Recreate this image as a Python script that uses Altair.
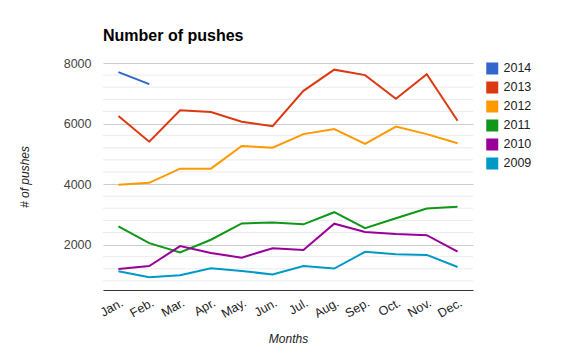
import altair as alt
import pandas as pd

months = ["Jan.", "Feb.", "Mar.", "Apr.", "May.", "Jun.", "Jul.", "Aug.", "Sep.", "Oct.", "Nov.", "Dec."]
years = ["2014", "2013", "2012", "2011", "2010", "2009"]
colors = ["#3366cc", "#dc3912", "#ff9900", "#109618", "#990099", "#0099c6"]

v2014 = [7700, 7300]
v2013 = [6250, 5400, 6440, 6380, 6060, 5910, 7080, 7780, 7600, 6820, 7630, 6090]
v2012 = [3980, 4040, 4510, 4510, 5260, 5200, 5650, 5820, 5330, 5900, 5650, 5350]
v2011 = [2600, 2050, 1740, 2160, 2700, 2730, 2670, 3070, 2540, 2870, 3190, 3250]
v2010 = [1190, 1290, 1950, 1720, 1570, 1880, 1820, 2690, 2420, 2350, 2310, 1770]
v2009 = [1120, 920, 990, 1220, 1130, 1010, 1290, 1210, 1760, 1680, 1660, 1260]

major_ticks = [2000, 4000, 6000, 8000]
minor_ticks = [800, 1200, 1600, 2400, 2800, 3200, 3600, 4400, 4800, 5200, 5600,
               6400, 6800, 7200, 7600]

series = {"2014": v2014, "2013": v2013, "2012": v2012,
          "2011": v2011, "2010": v2010, "2009": v2009}
rows = []
for y in years:
    for i, (m, v) in enumerate(zip(months, series[y])):
        rows.append({"month": m, "year": y, "value": v, "idx": i})
df = pd.DataFrame(rows)
minor_df = pd.DataFrame({"v": minor_ticks})

FONT = "Liberation Sans"

yscale = alt.Scale(domain=[500, 8000], nice=False, zero=False)
xscale = alt.Scale(type="point", domain=months, padding=0.5)

minor = alt.Chart(minor_df).mark_rule(color="#ebebeb", strokeWidth=1).encode(
    y=alt.Y("v:Q", scale=yscale)
)

lines = alt.Chart(df).mark_line(strokeWidth=2).encode(
    x=alt.X("month:N", scale=xscale, sort=months,
            axis=alt.Axis(title="Months", titleFontStyle="italic", titleFontWeight="normal",
                          titleFontSize=12, titleFont=FONT, titleColor="#222",
                          labelAngle=-30, labelAlign="right", labelBaseline="top",
                          labelFont=FONT, labelFontSize=12.5, labelColor="#222",
                          labelPadding=6, ticks=False, grid=False,
                          domainColor="#333", domainWidth=1, titlePadding=14)),
    y=alt.Y("value:Q", scale=yscale,
            axis=alt.Axis(values=major_ticks, format="d", title="# of pushes",
                          titleFontStyle="italic",
                          titleFontWeight="normal", titleFontSize=12, titleFont=FONT,
                          titleColor="#222", titleX=-72, titleY=113.5,
                          labelFont=FONT, labelFontSize=12.5, labelColor="#444",
                          labelPadding=12, ticks=False, domain=False,
                          grid=True, gridColor="#cccccc", gridWidth=1)),
    color=alt.Color("year:N", scale=alt.Scale(domain=years, range=colors),
                    legend=alt.Legend(title=None, orient="none", legendX=383, legendY=-1,
                                      symbolType="square", symbolSize=36,
                                      symbolStrokeWidth=6, symbolOpacity=1,
                                      labelFont=FONT, labelFontSize=12.5, labelColor="#222",
                                      labelOffset=5, rowPadding=6, clipHeight=12.8,
                                      padding=0)),
    order=alt.Order("idx:Q"),
)

chart = alt.layer(minor, lines).properties(
    width=370, height=227,
    title=alt.TitleParams("Number of pushes", anchor="start", frame="group", font=FONT,
                          fontSize=16, fontWeight="bold", color="#000", offset=13),
    autosize=alt.AutoSizeParams(type="none"),
    padding={"left": 103, "top": 63, "right": 107, "bottom": 60},
).configure_view(stroke=None)

chart.save("out.html", embed_options={"renderer": "svg", "actions": False})
